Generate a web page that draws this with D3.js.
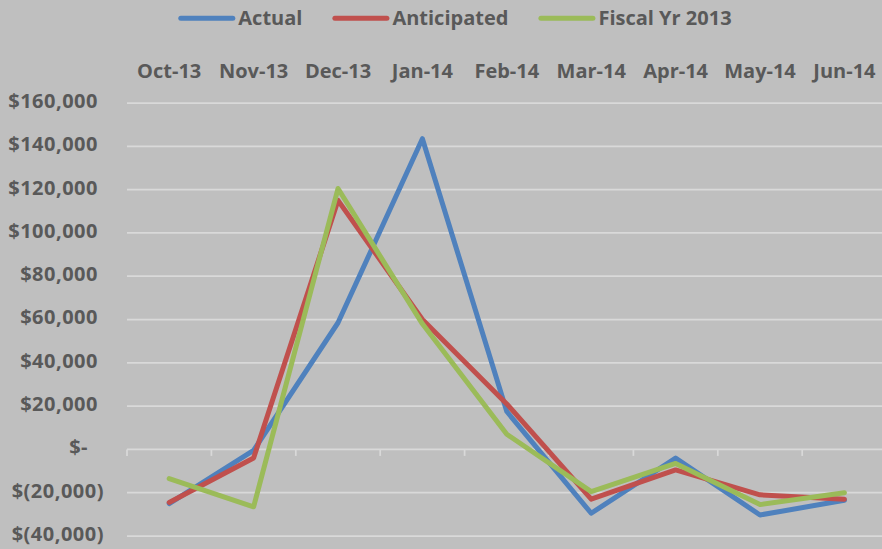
<!DOCTYPE html>
<html>
<head>
<meta charset="utf-8">
<script src="https://cdn.jsdelivr.net/npm/d3@7"></script>
<style>
  html, body { margin: 0; padding: 0; background: #bfbfbf; }
  svg { display: block; }
  text { font-family: "Open Sans", sans-serif; font-weight: 700; fill: #595959; }
</style>
</head>
<body>
<svg id="chart" width="882" height="549"></svg>
<script>
// Monthly categories
const months = ["Oct-13", "Nov-13", "Dec-13", "Jan-14", "Feb-14", "Mar-14", "Apr-14", "May-14", "Jun-14"];

// Series values (dollars)
const actual      = [-25000,   -500,  58500, 143500, 17500, -29500, -4000, -30300, -23500];
const anticipated = [-24500,  -4000, 115000,  60000, 21000, -23000, -9500, -21000, -23000];
const fiscal2013  = [-13500, -26500, 120500,  58000,  7000, -19500, -6500, -25500, -20000];

// Value-axis ticks
const yTicks = [-40000, -20000, 0, 20000, 40000, 60000, 80000, 100000, 120000, 140000, 160000];

const seriesNames  = ["Actual", "Anticipated", "Fiscal Yr 2013"];
const seriesColors = ["#4f81bd", "#c0504d", "#9bbb59"];
const seriesData   = [actual, anticipated, fiscal2013];

const series = seriesNames.map((name, i) => ({
  name, color: seriesColors[i], values: seriesData[i]
}));

const W = 882, H = 549;
const plot = { left: 127, right: 886.6, top: 103, bottom: 536 };

const svg = d3.select("#chart");
svg.append("rect").attr("width", W).attr("height", H).attr("fill", "#bfbfbf");

const x = d3.scaleBand().domain(months).range([plot.left, plot.right]).paddingInner(0).paddingOuter(0);
const y = d3.scaleLinear().domain([-40000, 160000]).range([plot.bottom, plot.top]);

// Horizontal gridlines
svg.append("g")
  .selectAll("line")
  .data(yTicks)
  .join("line")
  .attr("x1", plot.left).attr("x2", W)
  .attr("y1", d => y(d)).attr("y2", d => y(d))
  .attr("stroke", "#d9d9d9").attr("stroke-width", 1.75);

// Value axis labels in accounting style
function fmtMoney(d) {
  if (d === 0) return "$-";
  const s = d3.format(",")(Math.abs(d));
  return d < 0 ? "$(" + s + ")" : "$" + s;
}
const yAxis = svg.append("g")
  .attr("transform", `translate(${plot.left},0)`)
  .call(d3.axisLeft(y).tickValues(yTicks).tickFormat(fmtMoney).tickSize(0));
yAxis.select(".domain").remove();
yAxis.selectAll("text")
  .attr("x", d => d === 0 ? -39 : (d < 0 ? -23 : -29))
  .attr("dy", "0.32em")
  .attr("transform", "translate(0,-2)")
  .style("font-size", "20px")
  .style("letter-spacing", "0.5px")
  .attr("fill", "#595959");

// Category axis: ticks on the zero line, labels above the plot
const xAxis = svg.append("g")
  .attr("transform", `translate(0,${y(0)})`)
  .call(d3.axisBottom(x).tickSize(0).tickFormat(""));
xAxis.select(".domain").remove();
xAxis.selectAll(".tick").remove();
const bounds = months.map(m => x(m)).concat([x(months[months.length - 1]) + x.bandwidth()]);
xAxis.selectAll("line.sep")
  .data(bounds)
  .join("line")
  .attr("class", "sep")
  .attr("x1", d => d).attr("x2", d => d)
  .attr("y1", 0).attr("y2", 6.5)
  .attr("stroke", "#d9d9d9").attr("stroke-width", 1.75);

const xTop = svg.append("g")
  .attr("transform", `translate(0,78.3)`)
  .call(d3.axisTop(x).tickSize(0).tickPadding(0));
xTop.select(".domain").remove();
xTop.selectAll("text")
  .attr("y", 0).attr("dy", 0)
  .style("font-size", "20px")
  .attr("fill", "#595959");

// Series lines
const line = d3.line()
  .x((d, i) => x(months[i]) + x.bandwidth() / 2)
  .y(d => y(d));

svg.append("g")
  .selectAll("path")
  .data(series)
  .join("path")
  .attr("d", d => line(d.values))
  .attr("fill", "none")
  .attr("stroke", d => d.color)
  .attr("stroke-width", 5)
  .attr("stroke-linejoin", "round")
  .attr("stroke-linecap", "round");

// Legend
const legend = svg.append("g").attr("transform", "translate(0,18.3)");
let lx = 178.3;
series.forEach(s => {
  const g = legend.append("g");
  g.append("line")
    .attr("x1", lx + 2.5).attr("x2", lx + 54.5)
    .attr("y1", 0).attr("y2", 0)
    .attr("stroke", s.color).attr("stroke-width", 5)
    .attr("stroke-linecap", "round");
  const t = g.append("text")
    .attr("x", lx + 60).attr("y", 7)
    .style("font-size", "20px")
    .text(s.name);
  lx += 60 + t.node().getComputedTextLength() + 30;
});
</script>
</body>
</html>
